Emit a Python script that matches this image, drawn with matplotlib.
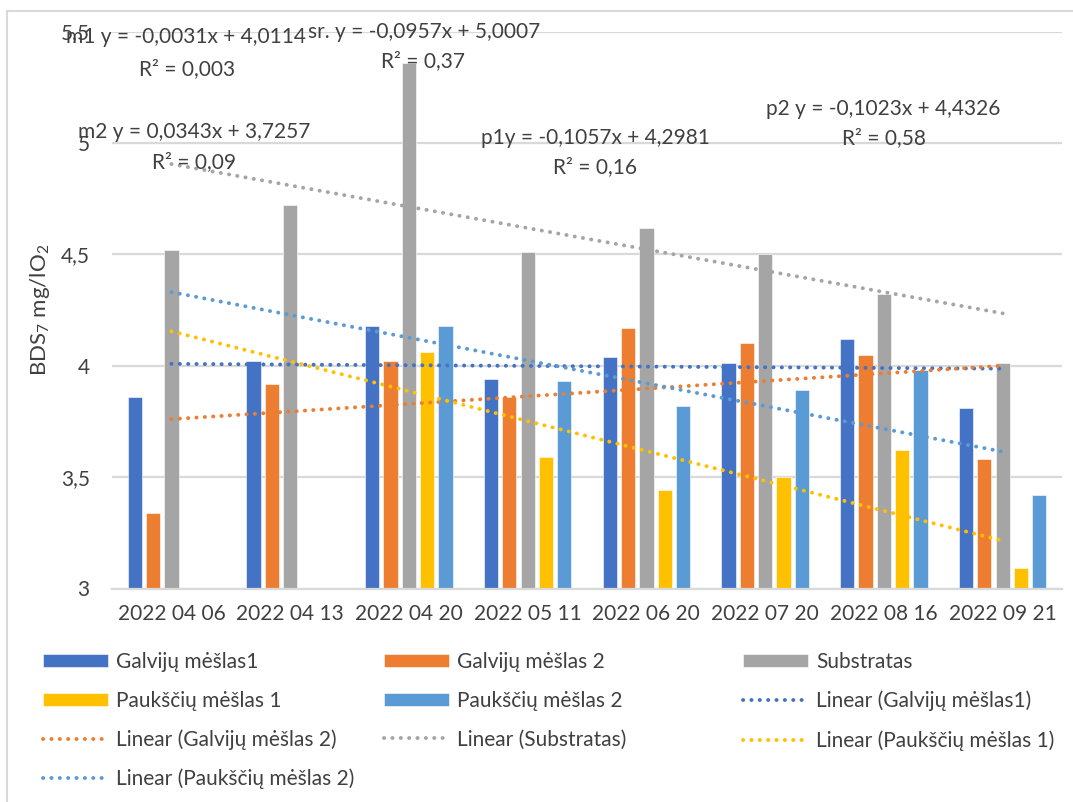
import numpy as np
import matplotlib
matplotlib.use("Agg")
import matplotlib.pyplot as plt
from matplotlib.lines import Line2D

# ---------------- data ----------------
dates = ["2022 04 06", "2022 04 13", "2022 04 20", "2022 05 11",
         "2022 06 20", "2022 07 20", "2022 08 16", "2022 09 21"]
galvijai1 = [3.86, 4.02, 4.18, 3.94, 4.04, 4.01, 4.12, 3.81]
galvijai2 = [3.34, 3.92, 4.02, 3.86, 4.17, 4.10, 4.05, 3.58]
substratas = [4.52, 4.72, 5.36, 4.51, 4.62, 4.50, 4.32, 4.01]
pauksciai1 = [np.nan, np.nan, 4.06, 3.59, 3.44, 3.50, 3.62, 3.09]
pauksciai2 = [np.nan, np.nan, 4.18, 3.93, 3.82, 3.89, 3.98, 3.42]

series_names = ["Galvijų mėšlas1", "Galvijų mėšlas 2", "Substratas",
                "Paukščių mėšlas 1", "Paukščių mėšlas 2"]
series_values = [galvijai1, galvijai2, substratas, pauksciai1, pauksciai2]
colors = ["#4472C4", "#ED7D31", "#A5A5A5", "#FFC000", "#5B9BD5"]

eq_labels = [
    ("m1 y = -0,0031x + 4,0114", "R² = 0,003"),
    ("m2 y = 0,0343x + 3,7257", "R² = 0,09"),
    ("sr. y = -0,0957x + 5,0007", "R² = 0,37"),
    ("p1y = -0,1057x + 4,2981", "R² = 0,16"),
    ("p2 y = -0,1023x + 4,4326", "R² = 0,58"),
]
ytick_vals = [3, 3.5, 4, 4.5, 5, 5.5]
ytick_labels = ["3", "3,5", "4", "4,5", "5", "5,5"]
ylabel = r"BDS$_7$ mg/lO$_2$"

# ---------------- style ----------------
FONT = "Lato"
plt.rcParams["font.family"] = [FONT, "DejaVu Sans"]
plt.rcParams["mathtext.fontset"] = "custom"
plt.rcParams["mathtext.rm"] = FONT
plt.rcParams["mathtext.it"] = FONT + ":italic"
TXT = "#404040"
GRID = "#D9D9D9"
FS = 15

W, H = 1073, 802
fig = plt.figure(figsize=(W / 100, H / 100), dpi=100)


def fx(x):
    return x / W


def fy(y):
    return 1 - y / H


left, right, top, bottom = 112, 1062, 31.5, 588.5
ax = fig.add_axes([fx(left), fy(bottom), fx(right - left), (bottom - top) / H])

x = np.arange(len(dates))
slot = 0.1545
bw = 0.12
bar_handles = []
for i, (vals, c, name) in enumerate(zip(series_values, colors, series_names)):
    b = ax.bar(x + (i - 2) * slot, vals, width=bw, bottom=0, color=c,
               edgecolor="white", linewidth=0.4, label=name, zorder=2)
    bar_handles.append(b)

# trend lines (least squares fit on the available points)
line_handles = []
for vals, c, name in zip(series_values, colors, series_names):
    v = np.array(vals, dtype=float)
    m = ~np.isnan(v)
    k, q = np.polyfit(x[m] + 1, v[m], 1)
    xx = np.array([x[0], x[-1]], dtype=float)
    ln, = ax.plot(xx, k * (xx + 1) + q, color=c, linewidth=2.8,
                  linestyle=(0, (0.05, 2.1)), dash_capstyle="round",
                  zorder=3, label="Linear (" + name + ")")
    line_handles.append(ln)

ax.set_xlim(-0.5, len(dates) - 0.5)
ax.set_ylim(3, 5.5)
ax.set_yticks(ytick_vals)
ax.set_yticklabels(ytick_labels)
ax.set_xticks(x)
ax.set_xticklabels(dates)
ax.tick_params(axis="both", length=0, labelsize=FS, colors=TXT)
ax.tick_params(axis="y", pad=16)
ax.tick_params(axis="x", pad=11)
ax.yaxis.grid(True, color=GRID, linewidth=1.6, zorder=0)
ax.set_axisbelow(True)
for s in ["left", "right", "top"]:
    ax.spines[s].set_visible(False)
ax.spines["bottom"].set_color(GRID)
ax.spines["bottom"].set_linewidth(1.6)

fig.text(fx(40), fy(310), ylabel, rotation=90, ha="center", va="center",
         fontsize=16, color=TXT)

# equation annotations (pixel centres)
eq_pos = [((186, 37), (187, 69)),
          ((194, 132), (194, 162)),
          ((424, 32), (423, 61)),
          ((595, 138), (595, 167)),
          ((883, 109), (884, 138))]
for (l1, l2), (p1, p2) in zip(eq_labels, eq_pos):
    fig.text(fx(p1[0]), fy(p1[1]), l1, ha="center", va="center",
             fontsize=FS, color=TXT)
    fig.text(fx(p2[0]), fy(p2[1]), l2, ha="center", va="center",
             fontsize=FS, color=TXT)

# legend: three columns, laid out row-wise like the original
all_handles = bar_handles + line_handles
all_labels = series_names + ["Linear (" + n + ")" for n in series_names]
cols = [[0, 3, 6, 9], [1, 4, 7], [2, 5, 8]]
col_x = [43, 384, 743]
for cx, idx in zip(col_x, cols):
    fig.legend([all_handles[i] for i in idx], [all_labels[i] for i in idx],
               loc="upper left", bbox_to_anchor=(fx(cx), fy(652)),
               bbox_transform=fig.transFigure, frameon=False,
               fontsize=FS, handlelength=3.12, handleheight=0.61,
               handletextpad=0.38, labelspacing=0.9, borderpad=0,
               borderaxespad=0, labelcolor=TXT)

# outer chart border (left and top)
fig.add_artist(Line2D([fx(7), fx(7)], [fy(11), fy(H)], color=GRID,
                      linewidth=1.5, transform=fig.transFigure))
fig.add_artist(Line2D([fx(7), fx(W)], [fy(11), fy(11)], color=GRID,
                      linewidth=1.5, transform=fig.transFigure))

fig.savefig("out.png", dpi=100)
